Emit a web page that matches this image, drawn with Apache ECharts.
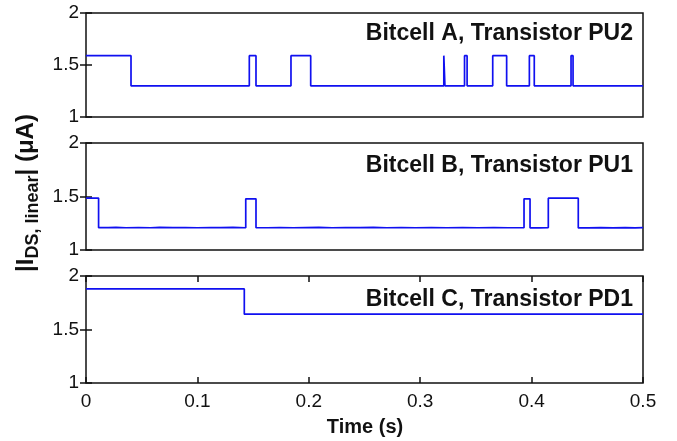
<!DOCTYPE html>
<html>
<head>
<meta charset="utf-8">
<script src="https://cdn.jsdelivr.net/npm/echarts@6/dist/echarts.min.js"></script>
<style>
  html, body { margin: 0; padding: 0; background: #fff; }
  #chart { width: 677px; height: 441px; }
</style>
</head>
<body>
<div id="chart"></div>
<script>
// 时间 (s) 与 |I_DS, linear| (μA)：每个点的电流值保持到下一个时间点
var titles = ['Bitcell A, Transistor PU2', 'Bitcell B, Transistor PU1', 'Bitcell C, Transistor PD1']
var yTicks = [1, 1.5, 2]
var xTicks = [0, 0.1, 0.2, 0.3, 0.4, 0.5]

var tA = [0, 0.0404, 0.1466, 0.1526, 0.184, 0.2017, 0.3212, 0.3222, 0.3398, 0.3421, 0.3651, 0.3776, 0.398, 0.4024, 0.4354, 0.4372, 0.5]
var iA = [1.59, 1.30, 1.59, 1.30, 1.59, 1.30, 1.59, 1.30, 1.59, 1.30, 1.59, 1.30, 1.59, 1.30, 1.59, 1.30, 1.30]

var tB = [0, 0.0113, 0.02, 0.027, 0.036, 0.047, 0.058, 0.066, 0.078, 0.089, 0.1, 0.112, 0.121, 0.132,
  0.1434, 0.1526, 0.163, 0.174, 0.186, 0.197, 0.209, 0.221, 0.233, 0.246, 0.258, 0.27, 0.283, 0.296, 0.31, 0.324, 0.338, 0.352, 0.366, 0.379,
  0.3932, 0.3986, 0.407, 0.415, 0.4419, 0.451, 0.462, 0.473, 0.484, 0.493, 0.5]
var iB = [1.485, 1.209, 1.211, 1.208, 1.21, 1.208, 1.211, 1.209, 1.21, 1.208, 1.21, 1.209, 1.211, 1.208,
  1.478, 1.208, 1.21, 1.208, 1.21, 1.211, 1.208, 1.21, 1.209, 1.211, 1.208, 1.21, 1.208, 1.21, 1.208, 1.21, 1.208, 1.21, 1.208, 1.209,
  1.478, 1.207, 1.21, 1.484, 1.206, 1.209, 1.207, 1.209, 1.207, 1.209, 1.209]

var tC = [0, 0.1421, 0.5]
var iC = [1.879, 1.643, 1.643]

var times = [tA, tB, tC]
var currents = [iA, iB, iC]

var chartDom = document.getElementById('chart')
var myChart = echarts.init(chartDom, null, { renderer: 'canvas' })

var fontFamily = '"Liberation Sans", Arial, Helvetica, sans-serif'
var gridTops = [13, 143, 276]
var gridHeights = [104, 107, 107]
var titleTops = [23, 155, 289]

var grids = [], xAxes = [], yAxes = [], series = [], titleList = []

for (var i = 0; i < 3; i++) {
  grids.push({
    left: 86, width: 557, top: gridTops[i], height: gridHeights[i],
    show: true, borderColor: '#111', borderWidth: 1.5, backgroundColor: 'transparent'
  })

  var isLast = i === 2
  // 下方 x 轴
  xAxes.push({
    gridIndex: i, type: 'value', min: 0, max: 0.5, interval: 0.1,
    axisLine: { show: false },
    axisTick: { show: isLast, inside: true, length: 6, lineStyle: { color: '#111', width: 1.5 } },
    axisLabel: { show: isLast, margin: 9, color: '#111', fontSize: 19, fontFamily: fontFamily,
      formatter: function (v) { return xTicks.indexOf(v) >= 0 ? String(v) : '' } },
    splitLine: { show: false }
  })
  // 上方 x 轴（只有刻度）
  xAxes.push({
    gridIndex: i, type: 'value', position: 'top', min: 0, max: 0.5, interval: 0.1,
    axisLine: { show: false },
    axisTick: { show: isLast, inside: true, length: 6, lineStyle: { color: '#111', width: 1.5 } },
    axisLabel: { show: false },
    splitLine: { show: false }
  })
  yAxes.push({
    gridIndex: i, type: 'value', min: 1, max: 2, interval: 0.5,
    axisLine: { show: false },
    axisTick: { show: true, inside: true, length: 6, lineStyle: { color: '#111', width: 1.5 } },
    axisLabel: { margin: 7, color: '#111', fontSize: 19, fontFamily: fontFamily,
      formatter: function (v) { return yTicks.indexOf(v) >= 0 ? String(v) : '' } },
    splitLine: { show: false }
  })
  yAxes.push({
    gridIndex: i, type: 'value', position: 'right', min: 1, max: 2, interval: 0.5,
    axisLine: { show: false },
    axisTick: { show: true, inside: true, length: 6, lineStyle: { color: '#111', width: 1.5 } },
    axisLabel: { show: false },
    splitLine: { show: false }
  })

  var data = times[i].map(function (t, k) { return [t, currents[i][k]] })
  series.push({
    type: 'line', step: 'end', xAxisIndex: i * 2, yAxisIndex: i * 2,
    data: data, showSymbol: false, silent: true,
    lineStyle: { color: '#1010f0', width: 1.7 }
  })

  titleList.push({
    text: titles[i], right: 44, top: titleTops[i] - 1, padding: 0,
    textStyle: { color: '#111', fontSize: 23, fontWeight: 'bold', fontFamily: fontFamily }
  })
}

var option = {
  animation: false,
  backgroundColor: '#fff',
  title: titleList,
  grid: grids,
  xAxis: xAxes,
  yAxis: yAxes,
  series: series,
  graphic: [
    {
      type: 'text', x: 365, y: 427,
      style: { text: 'Time (s)', fill: '#111', font: 'bold 20px ' + fontFamily, align: 'center', verticalAlign: 'middle' }
    },
    {
      type: 'text', x: 26, y: 193, rotation: Math.PI / 2,
      style: {
        text: '{m||I}{s|DS, linear}{m|| (μA)}',
        align: 'center', verticalAlign: 'middle', fill: '#111',
        rich: {
          m: { fontSize: 24, fontWeight: 'bold', fontFamily: fontFamily, lineHeight: 32, fill: '#111' },
          s: { fontSize: 18, fontWeight: 'bold', fontFamily: fontFamily, lineHeight: 19, verticalAlign: 'bottom', fill: '#111' }
        }
      }
    }
  ]
}

myChart.setOption(option)
window.addEventListener('resize', function () { myChart.resize() })
</script>
</body>
</html>
